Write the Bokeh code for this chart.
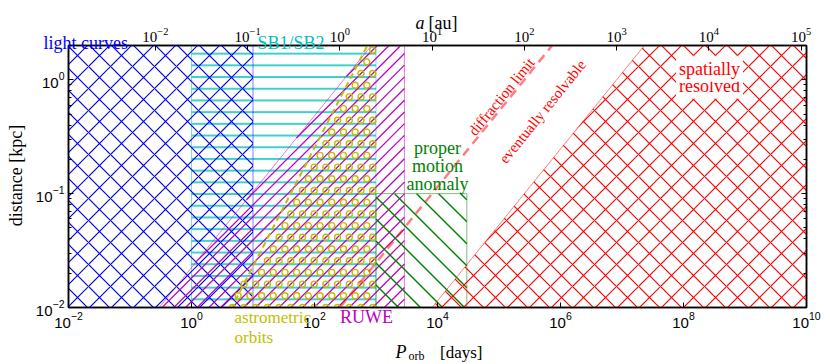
import numpy as np
from bokeh.plotting import figure
from bokeh.models import Range1d, LogAxis, LogScale, FixedTicker, Label, LogTickFormatter
from bokeh.core.properties import value
from bokeh.embed import file_html
from bokeh.resources import INLINE

# ---------------- data ----------------
P_RANGE = [1e-2, 1e10]      # orbital period [days]
D_RANGE = [1e-2, 2.0]       # distance [kpc]
TOTAL_MASS = 2.0            # Msun, used for a(P)

P_lightcurves = [1e-2, 1e1]
P_sb = [1e0, 1e3]
P_astro_max = 1e3
astro_edge_P = [4.5, 725.0]       # yellow dashed boundary (days)
astro_edge_d = [0.01, 2.0]        # (kpc)
alpha_ruwe_mas = 1.1
P_ruwe_max = 2900.0
P_pma = [1e3, 3e4]
d_pma_max = 0.1
alpha_diffraction_mas = 100.0
alpha_resolved_mas = 1000.0
P_resolved_max = 1e10

bottom_ticks = [1e-2, 1e0, 1e2, 1e4, 1e6, 1e8, 1e10]
left_ticks = [1e-2, 1e-1, 1e0]
left_minor = [k * 10.0 ** n for n in (-2, -1, 0) for k in range(2, 10)]
top_ticks = [1e-2, 1e-1, 1e0, 1e1, 1e2, 1e3, 1e4, 1e5]

BLUE = "#0000ff"
CYAN = "#00bfbf"
YELLOW = "#bfbf00"
MAGENTA = "#bf00bf"
GREEN = "#008000"
RED = "#ff0000"
SERIF = "Liberation Serif"
SANS = "Liberation Sans"

# layout (pixels)
W, H = 828, 362
BL, BR, BT, BB = 68, 22, 45, 55
FW, FH = W - BL - BR, H - BT - BB


def sma_au(P):
    return (TOTAL_MASS * (np.asarray(P, float) / 365.25) ** 2) ** (1.0 / 3.0)


def period_of_sma(a):
    return 365.25 * np.sqrt(np.asarray(a, float) ** 3 / TOTAL_MASS)


def period_at_angle(alpha_mas, d_kpc):
    # a[au] / d[kpc] = alpha[mas]
    return period_of_sma(alpha_mas * d_kpc)


# screen-space helpers for hand-made hatching
KX = FW / (np.log10(P_RANGE[1]) - np.log10(P_RANGE[0]))
KY = FH / (np.log10(D_RANGE[1]) - np.log10(D_RANGE[0]))


def to_uv(P, d):
    return ((np.log10(P) - np.log10(P_RANGE[0])) * KX,
            (np.log10(d) - np.log10(D_RANGE[0])) * KY)


def from_uv(u, v):
    return (10 ** (np.asarray(u) / KX + np.log10(P_RANGE[0])),
            10 ** (np.asarray(v) / KY + np.log10(D_RANGE[0])))


def uv_poly(xs, ys):
    pts = [to_uv(x, y) for x, y in zip(xs, ys)]
    area = sum(pts[i][0] * pts[(i + 1) % len(pts)][1] - pts[(i + 1) % len(pts)][0] * pts[i][1]
               for i in range(len(pts)))
    return pts if area > 0 else pts[::-1]


def clip_line(p0, d, poly):
    tmin, tmax = -1e9, 1e9
    n = len(poly)
    for i in range(n):
        a, b = poly[i], poly[(i + 1) % n]
        ex, ey = b[0] - a[0], b[1] - a[1]
        num = ex * (p0[1] - a[1]) - ey * (p0[0] - a[0])
        den = ex * d[1] - ey * d[0]
        if abs(den) < 1e-12:
            if num < 0:
                return None
            continue
        t = -num / den
        if den > 0:
            tmin = max(tmin, t)
        else:
            tmax = min(tmax, t)
    if tmax <= tmin:
        return None
    return tmin, tmax


def hatch_lines(xs, ys, spacing, direction, color, width):
    poly = uv_poly(xs, ys)
    sgn = 1 if direction == "/" else -1       # "/" : v = u - c ; "\" : v = -u + c
    cs = [q[0] - sgn * q[1] for q in poly]
    mx, my = [], []
    for k in range(int(np.floor(min(cs) / spacing)), int(np.ceil(max(cs) / spacing)) + 1):
        p0 = (k * spacing, 0.0)
        dvec = (1.0, float(sgn))
        r = clip_line(p0, dvec, poly)
        if r is None:
            continue
        t0, t1 = r
        u = [p0[0] + t0 * dvec[0], p0[0] + t1 * dvec[0]]
        v = [p0[1] + t0 * dvec[1], p0[1] + t1 * dvec[1]]
        P, dd = from_uv(u, v)
        mx.append(list(P))
        my.append(list(dd))
    p.multi_line(mx, my, line_color=color, line_width=width)


def hatch_rings(xs, ys, spacing, color, size, width):
    poly = uv_poly(xs, ys)
    us = [q[0] for q in poly]
    vs = [q[1] for q in poly]
    pu, pv = [], []
    for j in range(int(min(vs) // spacing), int(max(vs) // spacing) + 2):
        off = (j % 2) * spacing / 2
        for i in range(int(min(us) // spacing) - 1, int(max(us) // spacing) + 2):
            u, v = i * spacing + off, j * spacing
            inside = True
            for k in range(len(poly)):
                a, b = poly[k], poly[(k + 1) % len(poly)]
                if (b[0] - a[0]) * (v - a[1]) - (b[1] - a[1]) * (u - a[0]) < 0:
                    inside = False
                    break
            if inside:
                pu.append(u)
                pv.append(v)
    P, dd = from_uv(pu, pv)
    p.scatter(list(P), list(dd), marker="circle", size=size, fill_color=None,
              line_color=color, line_width=width)


ylo, yhi = D_RANGE[0] * 0.8, D_RANGE[1] * 1.2
xlo, xhi = P_RANGE[0] * 0.8, P_RANGE[1] * 1.5

p = figure(width=W, height=H, x_axis_type="log", y_axis_type="log",
           x_range=Range1d(*P_RANGE), y_range=Range1d(*D_RANGE),
           output_backend="svg", toolbar_location=None,
           min_border_left=BL, min_border_right=BR, min_border_top=BT,
           min_border_bottom=BB)
p.xgrid.visible = False
p.ygrid.visible = False
p.outline_line_color = "black"
p.outline_line_width = 1.5
p.background_fill_color = "white"
p.border_fill_color = "white"

p.extra_x_ranges = {"a": Range1d(float(sma_au(P_RANGE[0])), float(sma_au(P_RANGE[1])))}
p.extra_x_scales = {"a": LogScale()}

# axes
bx = p.xaxis[0]
bx.ticker = FixedTicker(ticks=bottom_ticks, minor_ticks=[])
ly = p.yaxis[0]
ly.ticker = FixedTicker(ticks=left_ticks, minor_ticks=left_minor)
top = LogAxis(x_range_name="a", ticker=FixedTicker(ticks=top_ticks, minor_ticks=[]),
              formatter=LogTickFormatter())
p.add_layout(top, "above")
right = LogAxis(ticker=FixedTicker(ticks=left_ticks, minor_ticks=left_minor),
                major_label_text_font_size="2px", major_label_text_alpha=0,
                major_label_standoff=0)
p.add_layout(right, "right")

for ax in (bx, ly, top, right):
    ax.major_tick_in = 5
    ax.major_tick_out = 0
    ax.minor_tick_in = 3
    ax.minor_tick_out = 0
    ax.axis_line_width = 1.5
    ax.axis_line_color = "black"
    ax.major_tick_line_color = "black"
    ax.minor_tick_line_color = "black"
for ax in (bx, ly):
    ax.major_label_text_font = SANS
    ax.major_label_text_font_size = "15px"
    ax.major_label_text_color = "black"
    ax.major_label_standoff = 4
top.major_label_text_font = SERIF
top.major_label_text_font_size = "15px"
top.major_label_text_color = "black"
top.major_label_standoff = 4


def region(xs, ys, color, pattern=None, scale=12, weight=1.0, halpha=1.0, lalpha=0.5):
    p.patch(xs, ys, fill_color=None, fill_alpha=0,
            hatch_pattern=pattern, hatch_color=color, hatch_scale=scale,
            hatch_weight=weight, hatch_alpha=halpha,
            line_color=color if lalpha > 0 else None, line_alpha=lalpha,
            line_width=1)


# SB1/SB2
region([P_sb[0], P_sb[1], P_sb[1], P_sb[0]], [ylo, ylo, yhi, yhi],
       CYAN, "horizontal_line", 11.7, 2, halpha=0.75)
# light curves
region([xlo, P_lightcurves[1], P_lightcurves[1], xlo], [ylo, ylo, yhi, yhi],
       BLUE, "diagonal_cross", 22, 1.2)

# astrometric orbits: boundary log d linear in log P
s = (np.log10(astro_edge_d[1]) - np.log10(astro_edge_d[0])) / \
    (np.log10(astro_edge_P[1]) - np.log10(astro_edge_P[0]))


def astro_P(d):
    return 10 ** (np.log10(astro_edge_P[0]) + (np.log10(d) - np.log10(astro_edge_d[0])) / s)


aP_lo, aP_hi = float(astro_P(ylo)), float(astro_P(yhi))
astro_x = [aP_lo, aP_hi, P_astro_max, P_astro_max]
astro_y = [ylo, yhi, yhi, ylo]

# RUWE
rP_lo = float(period_at_angle(alpha_ruwe_mas, ylo))
rP_hi = float(period_at_angle(alpha_ruwe_mas, yhi))
ruwe_x = [rP_lo, rP_hi, P_ruwe_max, P_ruwe_max]
ruwe_y = [ylo, yhi, yhi, ylo]
hatch_lines(ruwe_x, ruwe_y, 11.7, "/", MAGENTA, 1.3)
region(ruwe_x, ruwe_y, MAGENTA)

hatch_rings(astro_x, astro_y, 11.7, YELLOW, 6, 1.4)
p.line([aP_lo, aP_hi], [ylo, yhi], line_color=YELLOW, line_width=2, line_dash="6 4")

# proper motion anomaly
pma_x = [P_pma[0], P_pma[1], P_pma[1], P_pma[0]]
pma_y = [ylo, ylo, d_pma_max, d_pma_max]
hatch_lines(pma_x, pma_y, 22, "\\", GREEN, 1.4)
region(pma_x, pma_y, GREEN)

# spatially resolved
sP_lo = float(period_at_angle(alpha_resolved_mas, ylo))
sP_hi = float(period_at_angle(alpha_resolved_mas, yhi))
region([sP_lo, sP_hi, xhi, xhi], [ylo, yhi, yhi, ylo],
       RED, "diagonal_cross", 22, 1.2)

# diffraction limit
dP_lo = float(period_at_angle(alpha_diffraction_mas, ylo))
dP_hi = float(period_at_angle(alpha_diffraction_mas, yhi))
p.line([dP_lo, dP_hi], [ylo, yhi], line_color=RED, line_alpha=0.5,
       line_width=2.5, line_dash="9 6")


# ---------------- texts ----------------
def lab(x, y, text, color, size="18px", align="left", baseline="alphabetic",
        angle=0.0, font=SERIF, style="normal", **kw):
    p.add_layout(Label(x=x, y=y, text=text, text_color=color, text_font=font,
                       text_font_size=size, text_align=align,
                       text_baseline=baseline, angle=angle, angle_units="deg",
                       text_font_style=style, **kw))


def txt(x, y, text, color, size="18px", align="left", baseline="alphabetic",
        angle=0.0, font=SERIF, style="normal"):
    # glyph text drawn on the overlay level so it may sit outside the frame
    p.text(x=[x], y=[y], text=[text], text_color=color, text_font=value(font),
           text_font_size=value(size), text_align=align, text_baseline=baseline,
           angle=angle, angle_units="deg", text_font_style=style, level="overlay")


txt(0.00392, 2.09, "light curves", BLUE)
txt(11.8, 2.09, "SB1/SB2", CYAN)
txt(5.0, 0.0081, "astrometric", YELLOW, size="17px", baseline="middle")
txt(5.0, 0.0055, "orbits", YELLOW, size="17px", baseline="middle")
txt(702, 0.0082, "RUWE", MAGENTA, align="center", baseline="middle")
lab(1e4, 0.2535, "proper", GREEN, align="center", baseline="middle")
lab(1e4, 0.176, "motion", GREEN, align="center", baseline="middle")
lab(1e4, 0.1225, "anomaly", GREEN, align="center", baseline="middle")
lab(1.1e5, 0.71, "diffraction limit", RED, size="15px", align="center",
    baseline="middle", angle=51)
lab(5.1e5, 0.524, "eventually resolvable", RED, size="15px", align="center",
    baseline="middle", angle=51)
lab(2.65e8, 0.886, "resolved", RED, align="center", baseline="middle",
    background_fill_color="white", background_fill_alpha=0.95, padding=3)
lab(2.65e8, 1.249, "spatially", RED, align="center", baseline="middle",
    background_fill_color="white", background_fill_alpha=0.95, padding=3)

# axis titles
txt(4385, 3.16, "a", "black", style="italic")
txt(7145, 3.16, "[au]", "black")
txt(2075, 0.00403, "P", "black", style="italic")
txt(3373, 0.00372, "orb", "black", size="12px")
txt(11000, 0.00403, "[days]", "black", size="17px")
txt(0.001426, 0.144, "distance [kpc]", "black", align="center", baseline="middle",
    angle=90)

open("out.html", "w").write(file_html(p, INLINE))
